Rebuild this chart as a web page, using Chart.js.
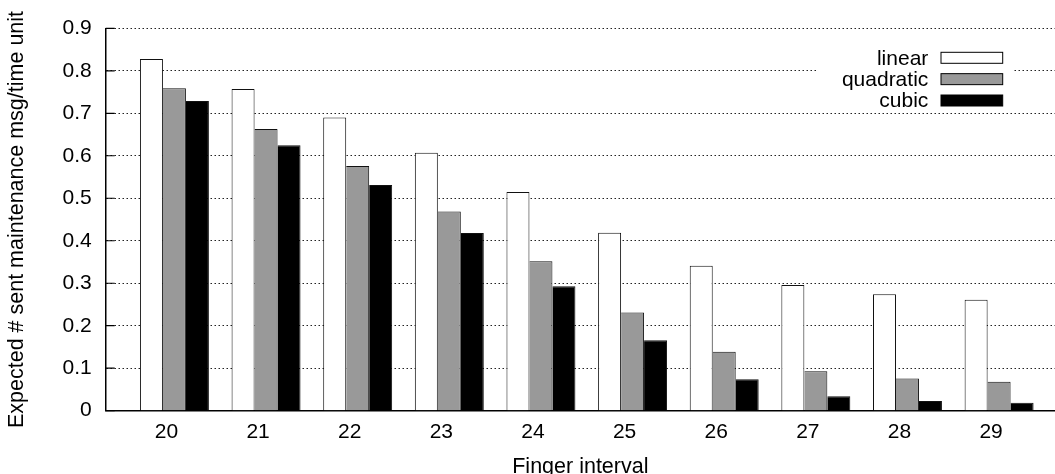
<!DOCTYPE html>
<html>
<head>
<meta charset="utf-8">
<title>Expected maintenance messages per finger interval</title>
<script src="https://cdn.jsdelivr.net/npm/chart.js@4/dist/chart.umd.min.js"></script>
<style>
  html, body { margin: 0; padding: 0; background: #fff; }
  canvas { display: block; }
</style>
</head>
<body>
<canvas id="chart" width="1055" height="474"></canvas>
<script>
// Finger intervals on the x axis
const fingerIntervals = [20, 21, 22, 23, 24, 25, 26, 27, 28, 29];

// Expected number of maintenance messages sent per time unit
const linearMsgs    = [0.828, 0.757, 0.690, 0.607, 0.515, 0.419, 0.341, 0.296, 0.274, 0.261];
const quadraticMsgs = [0.759, 0.663, 0.576, 0.469, 0.352, 0.231, 0.139, 0.093, 0.076, 0.068];
const cubicMsgs     = [0.729, 0.625, 0.531, 0.418, 0.293, 0.166, 0.074, 0.034, 0.023, 0.019];

const seriesNames  = ['linear', 'quadratic', 'cubic'];
const seriesValues = [linearMsgs, quadraticMsgs, cubicMsgs];
const seriesFills  = ['#ffffff', '#999999', '#000000'];
// neighbouring boxes share one outline edge
const seriesEdges  = [
  { left: 1, top: 1, right: 1, bottom: 0 },
  { left: 0, top: 1, right: 1, bottom: 0 },
  { left: 0, top: 1, right: 1, bottom: 0 }
];

// y axis ticks
const yTickValues = [0, 0.1, 0.2, 0.3, 0.4, 0.5, 0.6, 0.7, 0.8, 0.9];
const yTickLabels = ['0', '0.1', '0.2', '0.3', '0.4', '0.5', '0.6', '0.7', '0.8', '0.9'];

const FONT = "'Liberation Sans', Arial, Helvetica, sans-serif";
Chart.defaults.font.family = FONT;
Chart.defaults.font.size = 21;
Chart.defaults.color = '#000';

const datasets = seriesNames.map((name, s) => ({
  label: name,
  data: fingerIntervals.map((x, i) => ({ x: x, y: seriesValues[s][i] })),
  backgroundColor: seriesFills[s],
  borderColor: '#111',
  borderWidth: seriesEdges[s],
  borderSkipped: false,
  categoryPercentage: 0.7525,
  barPercentage: 1.0
}));

// short inward tick marks on the left axis (gnuplot style)
const inwardTicks = {
  id: 'inwardTicks',
  afterDatasetsDraw(chart) {
    const ctx = chart.ctx;
    const y = chart.scales.y;
    const x0 = chart.chartArea.left;
    ctx.save();
    ctx.strokeStyle = '#000';
    ctx.lineWidth = 1.2;
    ctx.beginPath();
    y.ticks.forEach(t => {
      const py = y.getPixelForValue(t.value);
      ctx.moveTo(x0, py);
      ctx.lineTo(x0 + 9, py);
    });
    ctx.stroke();
    ctx.restore();
  }
};

// key in the upper right corner: label text on the left, sample box on the right
const keyBox = {
  id: 'keyBox',
  afterDatasetsDraw(chart) {
    const ctx = chart.ctx;
    ctx.save();
    ctx.fillStyle = '#fff';
    ctx.fillRect(818, 41, 195, 67);
    ctx.font = '21px ' + FONT;
    ctx.textAlign = 'right';
    ctx.textBaseline = 'middle';
    chart.data.datasets.forEach((ds, i) => {
      const cy = 57.8 + i * 21.35;
      ctx.fillStyle = '#000';
      ctx.fillText(ds.label, 928.3, cy + 1);
      ctx.fillStyle = ds.backgroundColor;
      ctx.fillRect(941, cy - 5.5, 61.7, 11);
      ctx.strokeStyle = '#000';
      ctx.lineWidth = 1;
      ctx.strokeRect(941, cy - 5.5, 61.7, 11);
    });
    ctx.restore();
  }
};

new Chart(document.getElementById('chart'), {
  type: 'bar',
  data: { datasets: datasets },
  options: {
    responsive: false,
    animation: false,
    devicePixelRatio: 1,
    layout: { padding: { top: 28.3, left: 0, right: 0, bottom: 0 } },
    plugins: {
      legend: { display: false },
      tooltip: { enabled: false }
    },
    scales: {
      x: {
        type: 'linear',
        min: 19.25,
        max: 29.61,
        offset: false,
        grid: { display: false, drawTicks: false },
        border: { display: true, color: '#000', width: 1.5 },
        ticks: {
          padding: 9,
          labelOffset: -8,
          maxRotation: 0,
          autoSkip: false,
          callback: v => String(v)
        },
        afterBuildTicks: s => { s.ticks = fingerIntervals.map(v => ({ value: v })); },
        afterFit: s => { s.height = 63.3; },
        title: {
          display: true,
          text: 'Finger interval',
          font: { size: 21.5 },
          padding: { top: 0, bottom: -5.5 }
        }
      },
      y: {
        min: 0,
        max: 0.9,
        grid: { color: '#222', lineWidth: 1, drawTicks: false },
        border: { display: true, color: '#000', width: 1.5, dash: [1.5, 2.5] },
        ticks: {
          padding: 14,
          callback: (v) => yTickLabels[yTickValues.indexOf(Math.round(v * 10) / 10)]
        },
        afterBuildTicks: s => { s.ticks = yTickValues.map(v => ({ value: v })); },
        afterFit: s => { s.width = 105.7; },
        title: {
          display: true,
          text: 'Expected # sent maintenance msg/time unit',
          font: { size: 21.5 },
          padding: { top: 4.6, bottom: 0 }
        }
      }
    }
  },
  plugins: [inwardTicks, keyBox]
});
</script>
</body>
</html>
